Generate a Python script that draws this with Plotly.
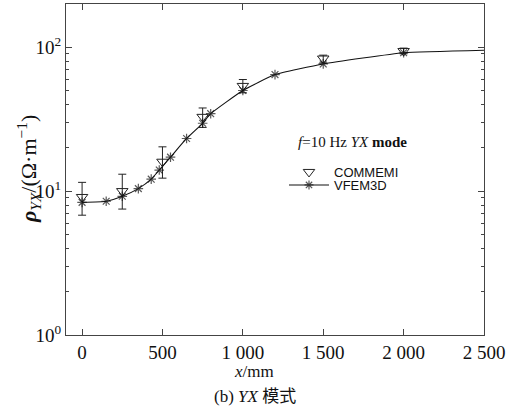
import plotly.graph_objects as go

# VFEM3D curve (asterisks); last point = curve end without a marker
x_vfem = [0, 150, 250, 350, 430, 480, 550, 650, 750, 800, 1000, 1200, 1500, 2000, 2500]
rho_vfem = [8.35, 8.5, 9.2, 10.4, 12.1, 14.0, 17.2, 23.2, 29.6, 34.5, 50.0, 64.5, 76.5, 91.5, 95.3]

# COMMEMI values with error range
x_comm = [0, 250, 500, 750, 1000, 1500, 2000]
rho_comm = [9.1, 10.0, 16.0, 32.8, 53.8, 83.4, 94.0]
rho_comm_hi = [11.5, 13.1, 20.3, 37.8, 59.6, 88.0, 98.5]
rho_comm_lo = [6.8, 7.5, 12.3, 27.7, 48.2, 77.7, 90.0]

x_ticks = [0, 500, 1000, 1500, 2000, 2500]
x_ticktext = ["0", "500", "1 000", "1 500", "2 000", "2 500"]
y_ticks = [1, 10, 100]
y_ticktext = ["10<sup>0</sup>", "10<sup>1</sup>", "10<sup>2</sup>"]
y_minor = [2, 3, 4, 5, 6, 7, 8, 9, 20, 30, 40, 50, 60, 70, 80, 90, 200]

SERIF = "Liberation Serif"
SANS = "Liberation Sans"
AX = "#444444"

err_plus = [h - v for h, v in zip(rho_comm_hi, rho_comm)]
err_minus = [v - l for v, l in zip(rho_comm, rho_comm_lo)]

fig = go.Figure()
fig.add_trace(go.Scatter(
    x=x_comm, y=rho_comm, mode="markers", name="COMMEMI",
    marker=dict(symbol="triangle-down-open", size=10, color="#222222",
                line=dict(width=1, color="#222222")),
    error_y=dict(type="data", symmetric=False, array=err_plus, arrayminus=err_minus,
                 width=4, thickness=1, color="#222222"),
    legend="legend",
))
sizes = [8] * (len(x_vfem) - 1) + [0]
fig.add_trace(go.Scatter(
    x=x_vfem, y=rho_vfem, mode="lines+markers", name="VFEM3D",
    line=dict(color="#111111", width=1.1, shape="spline", smoothing=0.4),
    marker=dict(symbol="asterisk-open", size=sizes, color="#111111",
                line=dict(width=1.2, color="#111111")),
    legend="legend2",
))

W, H = 518, 414
ml, mr, mt, mb = 66, 34, 4, 79
pw, ph = W - ml - mr, H - mt - mb

def px(xp):
    return (xp - ml) / pw

def py(yp):
    return (H - mb - yp) / ph

fig.update_layout(
    width=W, height=H,
    margin=dict(l=ml, r=mr, t=mt, b=mb, autoexpand=False),
    paper_bgcolor="white", plot_bgcolor="white",
    font=dict(family=SERIF, size=18, color="#111111"),
    legend=dict(x=px(284), y=py(172), xanchor="left", yanchor="middle",
                font=dict(family=SANS, size=13, color="#111111"),
                bgcolor="rgba(0,0,0,0)", itemwidth=40, borderwidth=0),
    legend2=dict(x=px(284), y=py(185), xanchor="left", yanchor="middle",
                 font=dict(family=SANS, size=13, color="#111111"),
                 bgcolor="rgba(0,0,0,0)", itemwidth=40, borderwidth=0),
    xaxis=dict(range=[-100, 2500], tickvals=x_ticks, ticktext=x_ticktext,
               ticks="inside", ticklen=6, tickcolor=AX, showline=True, linecolor=AX,
               linewidth=1.3, mirror="ticks", showgrid=False, zeroline=False,
               tickfont=dict(family=SERIF, size=19)),
    yaxis=dict(type="log", range=[0, 2.3], tickvals=y_ticks, ticktext=y_ticktext,
               ticks="inside", ticklen=6, tickcolor=AX, showline=True, linecolor=AX,
               linewidth=1.3, mirror="ticks", showgrid=False, zeroline=False,
               tickfont=dict(family=SERIF, size=19),
               minor=dict(tickvals=y_minor, ticks="inside", ticklen=3, tickcolor=AX,
                          showgrid=False)),
    showlegend=True,
)

fig.add_annotation(
    text="<b><i>ρ</i></b><sub><i>YX</i></sub>/(Ω·m<sup>−1</sup>)",
    xref="paper", yref="paper", x=px(28), y=py(169), xanchor="center", yanchor="middle",
    textangle=-90, showarrow=False, font=dict(family=SERIF, size=22, color="#111111"))
fig.add_annotation(
    text="<i>f</i>=10 Hz <i>YX</i> <b>mode</b>",
    xref="paper", yref="paper", x=px(296), y=py(142), xanchor="left", yanchor="middle",
    showarrow=False, font=dict(family=SERIF, size=15, color="#111111"))
fig.add_annotation(
    text="<i>x</i>/mm",
    xref="paper", yref="paper", x=px(254), y=py(371), xanchor="center", yanchor="middle",
    showarrow=False, font=dict(family=SERIF, size=17, color="#111111"))
fig.add_annotation(
    text="(b) <i>YX</i> <span style='font-family:Noto Sans CJK SC'>模式</span>",
    xref="paper", yref="paper", x=px(255), y=py(394), xanchor="center", yanchor="middle",
    showarrow=False, font=dict(family=SERIF, size=17, color="#111111"))

fig.write_html("out.html", config={"displayModeBar": False},
               post_script="document.body.style.margin='0';")
